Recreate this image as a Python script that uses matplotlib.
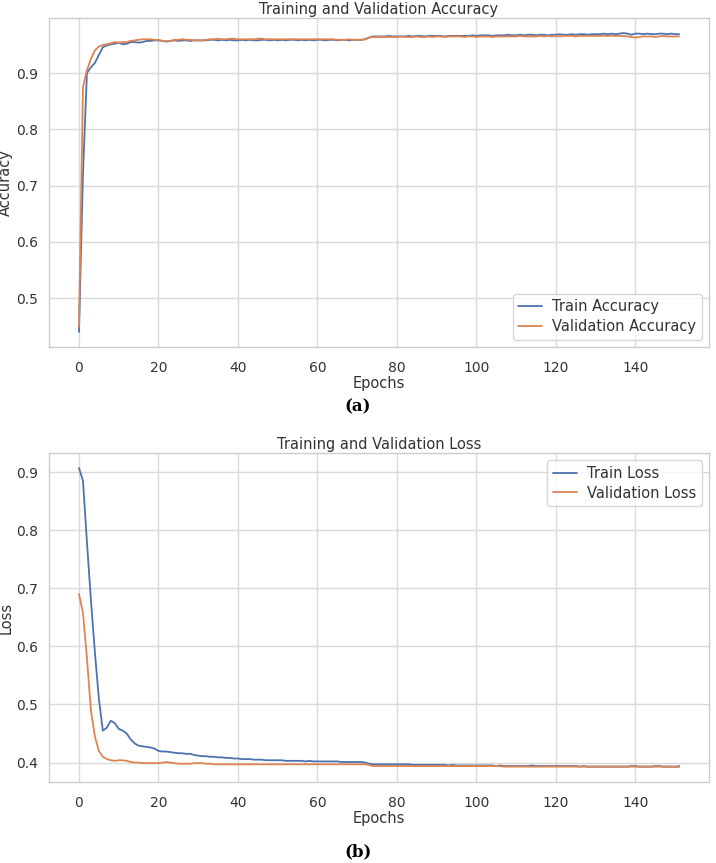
import matplotlib
matplotlib.use("Agg")
import matplotlib.pyplot as plt
import seaborn as sns
import numpy as np

train_acc = [
    0.440, 0.720, 0.900, 0.910, 0.918, 0.932, 0.946, 0.949, 0.951, 0.952,
    0.954, 0.951, 0.952, 0.955, 0.955, 0.954, 0.955, 0.957, 0.957, 0.958,
    0.958, 0.957, 0.956, 0.957, 0.958, 0.957, 0.958, 0.958, 0.957, 0.958,
    0.958, 0.958, 0.958, 0.959, 0.959, 0.958, 0.959, 0.958, 0.959, 0.958,
    0.958, 0.959, 0.958, 0.959, 0.958, 0.958, 0.959, 0.959, 0.958, 0.959,
    0.958, 0.959, 0.958, 0.959, 0.959, 0.958, 0.959, 0.958, 0.959, 0.958,
    0.959, 0.959, 0.958, 0.959, 0.959, 0.958, 0.959, 0.959, 0.958, 0.959,
    0.959, 0.959, 0.960, 0.963, 0.965, 0.965, 0.965, 0.965, 0.966, 0.965,
    0.965, 0.965, 0.965, 0.966, 0.965, 0.966, 0.966, 0.965, 0.966, 0.966,
    0.966, 0.966, 0.965, 0.966, 0.966, 0.966, 0.966, 0.966, 0.966, 0.967,
    0.966, 0.967, 0.967, 0.967, 0.966, 0.967, 0.967, 0.967, 0.968, 0.967,
    0.967, 0.968, 0.967, 0.968, 0.968, 0.967, 0.968, 0.968, 0.967, 0.968,
    0.968, 0.969, 0.968, 0.968, 0.969, 0.968, 0.969, 0.969, 0.968, 0.969,
    0.969, 0.969, 0.970, 0.969, 0.970, 0.969, 0.970, 0.971, 0.970, 0.968,
    0.970, 0.970, 0.969, 0.970, 0.969, 0.969, 0.970, 0.970, 0.969, 0.970,
    0.969, 0.969,
]

val_acc = [
    0.450, 0.875, 0.905, 0.925, 0.940, 0.947, 0.950, 0.951, 0.953, 0.955,
    0.954, 0.955, 0.955, 0.957, 0.958, 0.959, 0.960, 0.960, 0.960, 0.959,
    0.959, 0.957, 0.956, 0.957, 0.959, 0.959, 0.960, 0.959, 0.959, 0.958,
    0.958, 0.958, 0.959, 0.960, 0.960, 0.961, 0.960, 0.960, 0.961, 0.961,
    0.960, 0.960, 0.960, 0.960, 0.960, 0.961, 0.961, 0.960, 0.960, 0.960,
    0.960, 0.960, 0.960, 0.960, 0.960, 0.960, 0.960, 0.960, 0.960, 0.960,
    0.960, 0.960, 0.960, 0.960, 0.960, 0.959, 0.959, 0.959, 0.960, 0.959,
    0.959, 0.959, 0.960, 0.963, 0.964, 0.964, 0.964, 0.964, 0.964, 0.964,
    0.964, 0.965, 0.964, 0.964, 0.964, 0.965, 0.964, 0.964, 0.965, 0.964,
    0.965, 0.965, 0.964, 0.965, 0.965, 0.965, 0.965, 0.964, 0.965, 0.965,
    0.964, 0.965, 0.965, 0.965, 0.964, 0.965, 0.965, 0.965, 0.965, 0.965,
    0.965, 0.966, 0.965, 0.965, 0.965, 0.965, 0.966, 0.965, 0.966, 0.965,
    0.966, 0.965, 0.966, 0.966, 0.966, 0.965, 0.966, 0.966, 0.966, 0.966,
    0.966, 0.966, 0.966, 0.966, 0.966, 0.966, 0.966, 0.966, 0.965, 0.964,
    0.963, 0.964, 0.965, 0.965, 0.965, 0.964, 0.965, 0.966, 0.965, 0.965,
    0.965, 0.965,
]

train_loss = [
    0.907, 0.885, 0.780, 0.680, 0.590, 0.510, 0.455, 0.460, 0.472, 0.468,
    0.458, 0.455, 0.450, 0.440, 0.433, 0.429, 0.428, 0.427, 0.426, 0.424,
    0.420, 0.419, 0.419, 0.418, 0.417, 0.416, 0.416, 0.415, 0.415, 0.413,
    0.412, 0.411, 0.411, 0.410, 0.410, 0.409, 0.409, 0.408, 0.408, 0.407,
    0.407, 0.406, 0.406, 0.406, 0.405, 0.405, 0.405, 0.404, 0.404, 0.404,
    0.404, 0.404, 0.403, 0.403, 0.403, 0.403, 0.403, 0.402, 0.403, 0.402,
    0.402, 0.402, 0.402, 0.402, 0.402, 0.402, 0.401, 0.401, 0.401, 0.401,
    0.401, 0.401, 0.400, 0.398, 0.397, 0.397, 0.397, 0.397, 0.397, 0.397,
    0.397, 0.397, 0.397, 0.397, 0.396, 0.396, 0.396, 0.396, 0.396, 0.396,
    0.396, 0.396, 0.396, 0.395, 0.396, 0.395, 0.395, 0.395, 0.395, 0.395,
    0.395, 0.395, 0.395, 0.395, 0.395, 0.394, 0.395, 0.394, 0.394, 0.394,
    0.394, 0.394, 0.394, 0.394, 0.395, 0.394, 0.394, 0.394, 0.394, 0.394,
    0.394, 0.394, 0.394, 0.394, 0.394, 0.394, 0.393, 0.394, 0.393, 0.393,
    0.393, 0.393, 0.393, 0.393, 0.393, 0.393, 0.393, 0.393, 0.393, 0.394,
    0.394, 0.393, 0.393, 0.393, 0.393, 0.394, 0.394, 0.393, 0.393, 0.393,
    0.393, 0.394,
]

val_loss = [
    0.690, 0.658, 0.580, 0.490, 0.445, 0.420, 0.410, 0.406, 0.404, 0.403,
    0.404, 0.404, 0.403, 0.401, 0.400, 0.400, 0.399, 0.399, 0.399, 0.399,
    0.399, 0.400, 0.401, 0.400, 0.399, 0.398, 0.398, 0.398, 0.398, 0.399,
    0.399, 0.399, 0.398, 0.398, 0.397, 0.397, 0.397, 0.397, 0.397, 0.397,
    0.397, 0.397, 0.397, 0.397, 0.397, 0.397, 0.397, 0.397, 0.397, 0.397,
    0.397, 0.397, 0.397, 0.397, 0.397, 0.397, 0.397, 0.397, 0.397, 0.397,
    0.397, 0.397, 0.397, 0.397, 0.397, 0.397, 0.397, 0.397, 0.397, 0.397,
    0.397, 0.397, 0.397, 0.396, 0.394, 0.394, 0.394, 0.394, 0.394, 0.394,
    0.394, 0.394, 0.394, 0.394, 0.394, 0.394, 0.394, 0.394, 0.394, 0.394,
    0.394, 0.394, 0.394, 0.394, 0.394, 0.394, 0.394, 0.394, 0.394, 0.394,
    0.394, 0.394, 0.394, 0.394, 0.394, 0.394, 0.394, 0.393, 0.393, 0.393,
    0.393, 0.393, 0.393, 0.393, 0.393, 0.393, 0.393, 0.393, 0.393, 0.393,
    0.393, 0.393, 0.393, 0.393, 0.393, 0.393, 0.393, 0.393, 0.393, 0.393,
    0.393, 0.393, 0.393, 0.393, 0.393, 0.393, 0.393, 0.393, 0.393, 0.393,
    0.393, 0.393, 0.393, 0.393, 0.393, 0.393, 0.393, 0.393, 0.393, 0.393,
    0.3925, 0.3925,
]

epochs = np.arange(len(train_acc))

sns.set_theme(style="whitegrid")
plt.rcParams['font.family'] = ['DejaVu Sans']

blue = "#4c72b0"
orange = "#dd8452"
txt = "#333333"
fs = 10.5
tfs = 10

fig = plt.figure(figsize=(7.16, 8.63), dpi=100)
ax1 = fig.add_axes([0.0684, 0.598, 0.922, 0.381])
ax2 = fig.add_axes([0.0684, 0.094, 0.922, 0.381])

def style(ax):
    ax.tick_params(axis='both', labelsize=tfs, colors=txt)
    ax.tick_params(axis='y', pad=2)
    ax.tick_params(axis='x', pad=4)
    for s in ax.spines.values():
        s.set_color("#cccccc")
        s.set_linewidth(1.0)
    ax.grid(True, color="#d9d9d9", linewidth=1.0)
    ax.yaxis.set_label_coords(-0.054, 0.5)

ax1.plot(epochs, train_acc, color=blue, lw=1.3, label="Train Accuracy")
ax1.plot(epochs, val_acc, color=orange, lw=1.3, label="Validation Accuracy")
ax1.set_title("Training and Validation Accuracy", fontsize=fs, color=txt, pad=3)
ax1.set_xlabel("Epochs", fontsize=fs, color=txt, labelpad=1)
ax1.set_ylabel("Accuracy", fontsize=fs, color=txt)
ax1.set_yticks([0.5, 0.6, 0.7, 0.8, 0.9])
ax1.set_xticks([0, 20, 40, 60, 80, 100, 120, 140])
ax1.legend(loc="lower right", fontsize=fs, frameon=True, framealpha=0.8,
           labelcolor=txt, handlelength=1.6, handletextpad=0.7, borderpad=0.4,
           labelspacing=0.3)
style(ax1)

ax2.plot(epochs, train_loss, color=blue, lw=1.3, label="Train Loss")
ax2.plot(epochs, val_loss, color=orange, lw=1.3, label="Validation Loss")
ax2.set_title("Training and Validation Loss", fontsize=fs, color=txt, pad=3)
ax2.set_xlabel("Epochs", fontsize=fs, color=txt, labelpad=1)
ax2.set_ylabel("Loss", fontsize=fs, color=txt)
ax2.set_yticks([0.4, 0.5, 0.6, 0.7, 0.8, 0.9])
ax2.set_xticks([0, 20, 40, 60, 80, 100, 120, 140])
ax2.legend(loc="upper right", fontsize=fs, frameon=True, framealpha=0.8,
           labelcolor=txt, handlelength=1.6, handletextpad=0.7, borderpad=0.4,
           labelspacing=0.3)
style(ax2)

fig.text(0.5, 1 - 407 / 863, "(a)", ha="center", va="center",
         fontsize=12, fontweight="bold", family="DejaVu Serif", color="black")
fig.text(0.5, 1 - 852 / 863, "(b)", ha="center", va="center",
         fontsize=12, fontweight="bold", family="DejaVu Serif", color="black")

fig.savefig("out.png", dpi=100)
